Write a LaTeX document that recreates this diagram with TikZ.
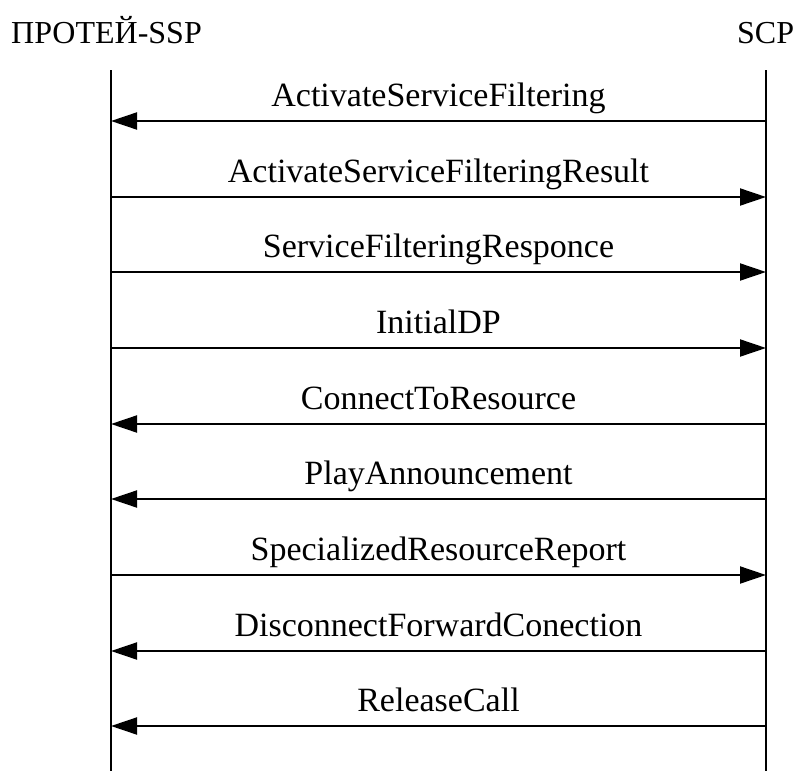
\documentclass[tikz,border=0pt]{standalone}
\usepackage{fontspec}
\setmainfont{Liberation Serif}
\usetikzlibrary{arrows.meta}
\begin{document}
\begin{tikzpicture}[x=1pt,y=-1pt,
  life/.style={line width=2pt},
  msg/.style={line width=2pt,-{Triangle[length=26pt,width=17pt]}},
  lbl/.style={anchor=base,inner sep=0pt,yshift=15pt,font=\fontsize{34}{40}\selectfont},
  head/.style={anchor=base west,inner sep=0pt,font=\fontsize{32}{38}\selectfont}]
\useasboundingbox (0,0) rectangle (798,771);
\node[head] (ssp) at (11,43) {ПРОТЕЙ-SSP};
\node[head] (scp) at (737,43) {SCP};
\coordinate (Ltop) at (111,70);
\coordinate (Lbot) at (111,771);
\coordinate (Rtop) at (766,70);
\coordinate (Rbot) at (766,771);
\draw[life] (Ltop) -- (Lbot);
\draw[life] (Rtop) -- (Rbot);
\foreach \i/\y in {1/121,2/197,3/272,4/348,5/424,6/499,7/575,8/651,9/726}{
  \coordinate (L\i) at (111,\y);
  \coordinate (R\i) at (766,\y);
}
\draw[msg] (R1) -- node[lbl]{ActivateServiceFiltering} (L1);
\draw[msg] (L2) -- node[lbl]{ActivateServiceFilteringResult} (R2);
\draw[msg] (L3) -- node[lbl]{ServiceFilteringResponce} (R3);
\draw[msg] (L4) -- node[lbl]{InitialDP} (R4);
\draw[msg] (R5) -- node[lbl]{ConnectToResource} (L5);
\draw[msg] (R6) -- node[lbl]{PlayAnnouncement} (L6);
\draw[msg] (L7) -- node[lbl]{SpecializedResourceReport} (R7);
\draw[msg] (R8) -- node[lbl]{DisconnectForwardConection} (L8);
\draw[msg] (R9) -- node[lbl]{ReleaseCall} (L9);
\end{tikzpicture}
\end{document}
